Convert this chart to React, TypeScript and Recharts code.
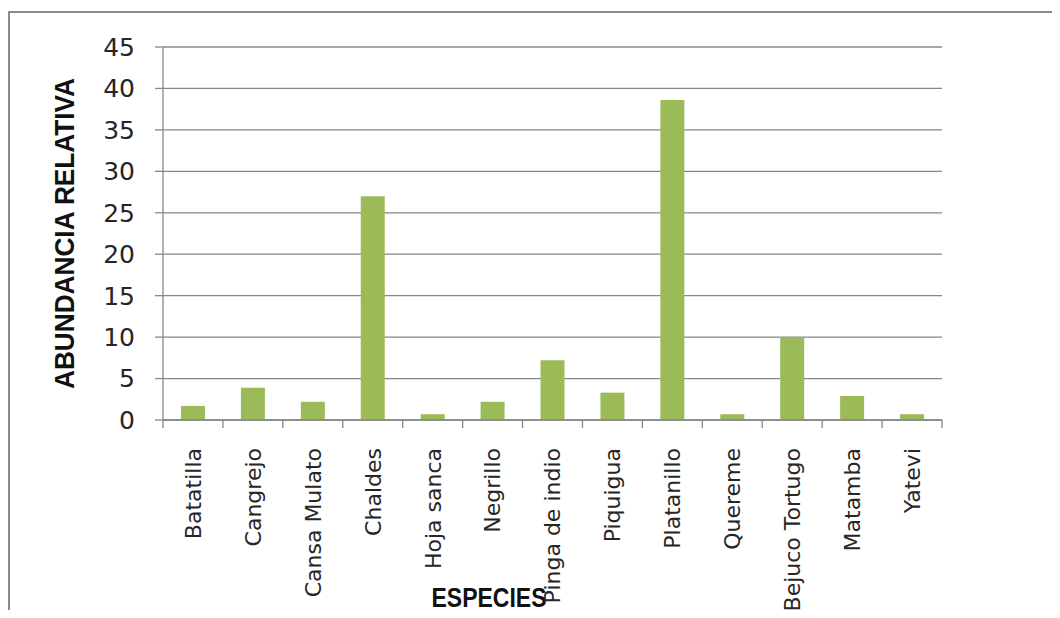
import { BarChart, Bar, XAxis, YAxis, CartesianGrid, Label } from "recharts";

const categories = [
  "Batatilla", "Cangrejo", "Cansa Mulato", "Chaldes", "Hoja sanca", "Negrillo",
  "Pinga de indio", "Piquigua", "Platanillo", "Quereme", "Bejuco Tortugo", "Matamba", "Yatevi",
];
const abundance = [1.7, 3.9, 2.2, 27.0, 0.7, 2.2, 7.2, 3.3, 38.6, 0.7, 9.9, 2.9, 0.7];
const yTicks = [0, 5, 10, 15, 20, 25, 30, 35, 40, 45];
const yTitle = "ABUNDANCIA RELATIVA";
const xTitle = "ESPECIES";

const GREEN = "#9BBB59";
const GRID = "#878787";
const INK = "#262626";
const TICK_FONT = "'DejaVu Sans', sans-serif";
const TITLE_FONT = "'Liberation Sans Narrow', 'Liberation Sans', sans-serif";

const data = categories.map((name, i) => ({ name, value: abundance[i] }));

// label + Excel-style tick marks between categories
function CategoryTick({ x, y, payload, width, visibleTicksCount, index }: any) {
  const half = width / visibleTicksCount / 2;
  const ty = y + 20;
  const axisY = y - 8;
  const last = index === visibleTicksCount - 1;
  return (
    <g>
      <line x1={x - half} x2={x - half} y1={axisY} y2={axisY + 8} stroke={GRID} strokeWidth={1.3} />
      {last && <line x1={x + half} x2={x + half} y1={axisY} y2={axisY + 8} stroke={GRID} strokeWidth={1.3} />}
      <text x={x} y={ty} transform={`rotate(-90, ${x}, ${ty})`} textAnchor="end" dy="0.36em"
        fontFamily={TICK_FONT} fontSize={22} fill={INK}>
        {payload.value}
      </text>
    </g>
  );
}

function YTitle({ viewBox }: any) {
  const cx = 64;
  const cy = viewBox.y + viewBox.height / 2;
  return (
    <text x={cx} y={cy} transform={`rotate(-90, ${cx}, ${cy})`} textAnchor="middle" dy="0.36em"
      fontFamily={TITLE_FONT} fontWeight="bold" fontSize={27} fill="#111"
      textLength={311} lengthAdjust="spacingAndGlyphs">
      {yTitle}
    </text>
  );
}

function XTitle({ viewBox }: any) {
  return (
    <text x={viewBox.x + 326} y={viewBox.y + 187} textAnchor="middle"
      fontFamily={TITLE_FONT} fontWeight="bold" fontSize={27} fill="#111"
      textLength={115} lengthAdjust="spacingAndGlyphs">
      {xTitle}
    </text>
  );
}

export default function App() {
  return (
    <div style={{ margin: -8, width: 1060, height: 618, position: "relative", overflow: "hidden", background: "#fff" }}>
      <div style={{ position: "absolute", left: 8, top: 11, width: 1100, height: 700, borderTop: "2px solid #8a8a8a", borderLeft: "2px solid #8a8a8a" }} />
      <BarChart width={1060} height={618} data={data} margin={{ top: 47, right: 118, left: 40, bottom: 0 }}
        barCategoryGap="30%" style={{ position: "absolute", left: 0, top: 0 }}>
        <CartesianGrid vertical={false} stroke={GRID} strokeWidth={1.3} />
        <XAxis dataKey="name" interval={0} height={198} tickSize={8} tickMargin={0}
          tickLine={false} axisLine={{ stroke: GRID, strokeWidth: 1.3 }} tick={<CategoryTick />}>
          <Label content={<XTitle />} />
        </XAxis>
        <YAxis width={123} domain={[0, 45]} ticks={yTicks} interval={0} tickSize={8} tickMargin={20}
          tick={{ fontFamily: TICK_FONT, fontSize: 25, fill: INK }}
          tickLine={{ stroke: GRID, strokeWidth: 1.3 }} axisLine={{ stroke: GRID, strokeWidth: 1.3 }}>
          <Label content={<YTitle />} />
        </YAxis>
        <Bar dataKey="value" fill={GREEN} isAnimationActive={false} />
      </BarChart>
    </div>
  );
}
